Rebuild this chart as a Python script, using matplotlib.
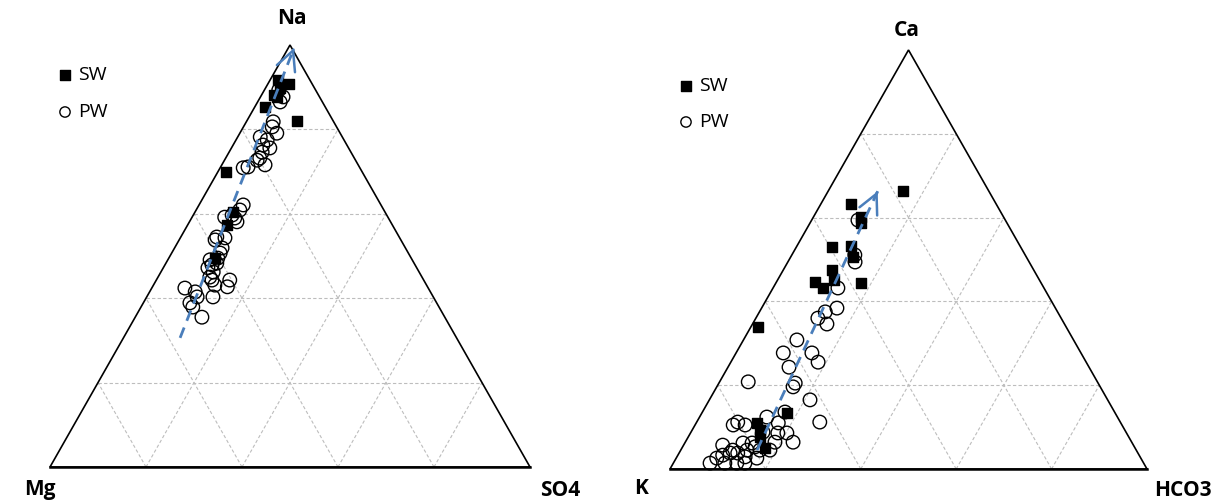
import matplotlib
matplotlib.use("Agg")
import matplotlib.pyplot as plt

plt.rcParams['font.family'] = ['Open Sans', 'DejaVu Sans']

# ---------------- data (percentages: top apex, right vertex) ----------------
# Left diagram: Na (top), SO4 (right), Mg (left)
sw_na = [91.7, 90.8, 88.2, 87.7, 89.8, 85.3, 82.0, 69.9, 60.4, 57.3, 49.5]
sw_so4 = [1.7, 4.4, 2.6, 3.5, 3.0, 2.1, 10.5, 1.7, 7.9, 8.2, 9.6]

pw_na = [86.5, 87.7, 89.3, 81.8, 80.6, 79.1, 78.2, 77.5, 76.3, 74.6, 73.2, 72.7,
         71.6, 70.9, 71.1, 75.6, 62.1, 60.9, 59.7, 59.0, 58.1, 59.2, 54.5, 54.3,
         53.8, 51.9, 50.7, 49.1, 48.3, 47.2, 46.2, 45.0, 44.3, 43.1, 44.3, 42.7,
         42.4, 41.5, 40.3, 38.9, 37.9, 40.3, 35.5, 49.5, 47.9]
pw_so4 = [4.7, 4.7, 3.0, 5.6, 6.0, 7.7, 4.7, 6.5, 6.2, 6.9, 7.1, 6.8,
          9.0, 4.8, 5.7, 8.0, 9.2, 9.1, 8.1, 9.0, 9.9, 6.8, 7.5, 9.3,
          7.5, 9.9, 10.1, 8.8, 10.6, 9.3, 10.9, 10.8, 11.6, 12.8, 15.3, 15.6,
          6.9, 9.5, 10.5, 9.7, 10.8, 13.8, 13.9, 10.2, 9.8]

trend_na = [30.6, 99.3]
trend_so4 = [11.8, 1.2]

# Right diagram: Ca (top), HCO3 (right), K (left)
sw_ca = [66.3, 63.2, 60.1, 58.7, 53.0, 53.2, 50.6, 47.5, 44.6, 43.2, 44.4, 45.1,
         33.9, 13.4, 11.0, 7.6, 5.0, 9.3]
sw_hco3 = [15.7, 6.3, 10.0, 10.7, 7.5, 11.3, 13.1, 10.2, 8.1, 10.5, 17.8, 11.8,
           1.5, 17.9, 12.8, 15.1, 17.4, 14.2]

pw_ca = [59.4, 51.1, 49.4, 43.2, 38.4, 36.0, 37.5, 34.6, 30.8, 27.7, 27.7, 25.5,
         24.3, 20.5, 19.6, 20.8, 16.5, 11.2, 13.6, 11.2, 10.5, 10.5, 11.0, 8.6,
         6.4, 8.8, 6.4, 5.7, 4.5, 4.5, 3.8, 3.8, 2.9, 2.6, 3.3, 1.4, 1.4, 1.4,
         2.6, 4.5, 5.3, 4.5, 6.2, 1.4, 6.2, 8.6, 12.4]
pw_hco3 = [9.7, 13.2, 14.1, 13.6, 15.8, 13.0, 13.8, 15.6, 11.2, 9.9, 15.9, 18.3,
           12.8, 16.0, 16.0, 6.0, 21.1, 25.8, 17.3, 8.6, 8.0, 10.5, 17.2, 20.2,
           22.6, 15.1, 18.8, 8.2, 10.9, 13.9, 10.7, 12.3, 14.3, 8.5, 9.4, 7.7, 10.8, 15.0,
           16.9, 16.6, 15.2, 18.7, 12.2, 13.3, 14.1, 18.3, 14.1]

trend_ca = [4.5, 66.3]
trend_hco3 = [16.0, 10.4]

legend_labels = ["SW", "PW"]
left_vertices = ["Na", "Mg", "SO4"]
right_vertices = ["Ca", "K", "HCO3"]

# ---------------- layout ----------------
W, H = 1220, 504
fig = plt.figure(figsize=(W / 100, H / 100), dpi=100)
ax = fig.add_axes([0, 0, 1, 1])
ax.set_xlim(0, W)
ax.set_ylim(H, 0)
ax.axis('off')

TRI_L = (50, 530, 467, 45)     # x_left, x_right, y_base, y_apex
TRI_R = (670, 1147, 469, 50)
BLUE = '#4a7ebb'


def to_xy(top, right, tri):
    x0, x1, yb, ya = tri
    t = [v / 100 for v in top]
    r = [v / 100 for v in right]
    xs = [x0 + (x1 - x0) * (ri + ti / 2) for ti, ri in zip(t, r)]
    ys = [yb - (yb - ya) * ti for ti in t]
    return xs, ys


def draw_triangle(tri):
    grid_kw = dict(color='#bdbdbd', lw=0.8, ls=(0, (3, 2)), zorder=1)
    for k in range(1, 5):
        f = k * 20
        xs, ys = to_xy([f, f], [0, 100 - f], tri)
        ax.plot(xs, ys, **grid_kw)
        xs, ys = to_xy([0, 100 - f], [f, f], tri)
        ax.plot(xs, ys, **grid_kw)
        xs, ys = to_xy([0, 100 - f], [100 - f, 0], tri)
        ax.plot(xs, ys, **grid_kw)
    xs, ys = to_xy([0, 100, 0, 0], [100, 0, 0, 100], tri)
    ax.plot(xs, ys, color='black', lw=1.2, zorder=2, solid_joinstyle='miter')
    xs, ys = to_xy([0, 0], [0, 100], tri)
    ax.plot(xs, ys, color='black', lw=1.8, zorder=2)


def draw_points(top_sw, right_sw, top_pw, right_pw, tri):
    xs, ys = to_xy(top_pw, right_pw, tri)
    ax.scatter(xs, ys, s=95, facecolors='none', edgecolors='black',
               linewidths=1.0, zorder=3)
    xs, ys = to_xy(top_sw, right_sw, tri)
    ax.scatter(xs, ys, s=55, marker='s', color='black', zorder=4)


def draw_trend(top, right, tri):
    xs, ys = to_xy(top, right, tri)
    ax.plot(xs, ys, color=BLUE, lw=2.0, ls=(0, (4, 2.6)), zorder=5)
    dx, dy = xs[1] - xs[0], ys[1] - ys[0]
    n = (dx ** 2 + dy ** 2) ** 0.5
    ax.annotate('', xy=(xs[1], ys[1]),
                xytext=(xs[1] - dx / n * 2, ys[1] - dy / n * 2),
                arrowprops=dict(arrowstyle='->,head_length=1.4,head_width=0.7',
                                color=BLUE, lw=1.8, shrinkA=0, shrinkB=0),
                zorder=6)


def draw_legend(x, y1, y2):
    ax.scatter([x], [y1], s=55, marker='s', color='black')
    ax.scatter([x], [y2], s=55, facecolors='none', edgecolors='black',
               linewidths=1.0)
    ax.text(x + 13, y1, legend_labels[0], fontsize=14, va='center', ha='left')
    ax.text(x + 13, y2, legend_labels[1], fontsize=14, va='center', ha='left')


draw_triangle(TRI_L)
draw_triangle(TRI_R)
draw_points(sw_na, sw_so4, pw_na, pw_so4, TRI_L)
draw_points(sw_ca, sw_hco3, pw_ca, pw_hco3, TRI_R)
draw_trend(trend_na, trend_so4, TRI_L)
draw_trend(trend_ca, trend_hco3, TRI_R)
draw_legend(65, 75, 112)
draw_legend(686, 86, 122)

lab = dict(fontsize=15, fontweight='bold', ha='center', va='center')
ax.text(292, 18, left_vertices[0], **lab)
ax.text(40, 490, left_vertices[1], **lab)
ax.text(560, 490, left_vertices[2], **lab)
ax.text(907, 30, right_vertices[0], **lab)
ax.text(641, 489, right_vertices[1], **lab)
ax.text(1183, 490, right_vertices[2], **lab)

fig.savefig('out.png', dpi=100)
